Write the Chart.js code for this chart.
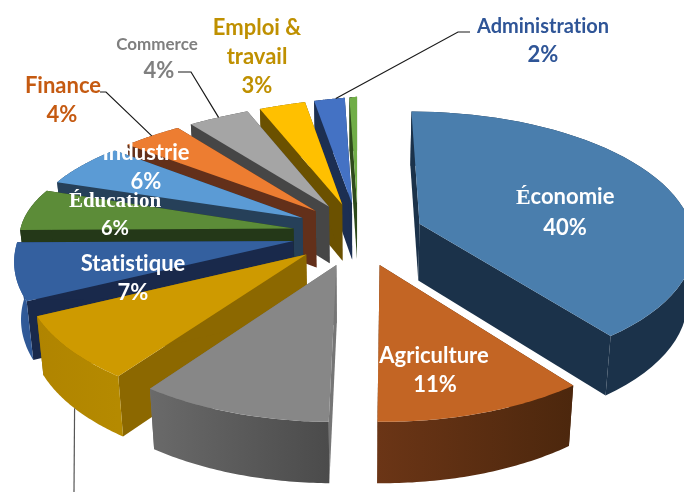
<!DOCTYPE html>
<html>
<head>
<meta charset="utf-8">
<style>
  /* the capital É of one label is set in a serif face */
  @font-face {
    font-family: 'LabelCap';
    src: local('Liberation Serif Bold');
    font-weight: bold;
    unicode-range: U+00C9;
  }
  html, body { margin: 0; padding: 0; background: #fff; }
  canvas { display: block; }
</style>
<script src="https://cdn.jsdelivr.net/npm/chart.js@4"></script>
</head>
<body>
<canvas id="pie" width="684" height="492"></canvas>
<script>
const categories = ['Économie', 'Agriculture', 'Autre A', 'Autre B', 'Statistique', 'Éducation',
    'Industrie', 'Finance', 'Commerce', 'Emploi & travail', 'Administration', 'Autre C'];
const shares = [40, 11, 10, 8, 7, 6, 6, 4, 4, 3, 2, 0.5];

const faceColors = ['#4A7EAD', '#C36524', '#878787', '#CE9A00', '#34609F', '#5C8C38',
    '#5B9BD5', '#ED7D31', '#A5A5A5', '#FFC000', '#4472C4', '#70AD47'];
const sideColors = ['#1B324A', '#4C270D', '#767676', '#8C6800', '#19294B', '#243818',
    '#264059', '#63301A', '#464646', '#6B5100', '#1C2F52', '#2E4A1B'];
const rimLeft = ['#1B324A', '#6B3516', '#6A6A6A', '#B08400', '#34609F', '#243818',
    '#264059', '#63301A', '#464646', '#6B5100', '#1C2F52', '#2E4A1B'];
const rimRight = ['#1B324A', '#4C270D', '#4B4B4B', '#B58A00', '#2F5896', '#243818',
    '#264059', '#63301A', '#464646', '#6B5100', '#1C2F52', '#2E4A1B'];

// back slices first so that the nearer ones cover their side walls
const paintOrder = [0, 1, 11, 10, 9, 8, 7, 6, 5, 4, 3, 2];

// tilted view of the unit pie
const view = { x: 358, y: 234, rx: 274, ry: 132, persp: 0.13, explode: 0.24, depth: 57, shrink: 0.98 };

function project(u, v) {
    const s = 1 + view.persp * v;
    // the rear left quarter leans out a little
    const lean = Math.max(0, -u) * Math.max(0, -v);
    return {
        x: view.x + view.rx * s * u - 15 * lean,
        y: view.y + view.ry * s * v + 14 * lean
    };
}

function drop(p) {
    const v = (p.y - view.y) / view.ry;
    return {
        x: view.x + (p.x - view.x) * view.shrink,
        y: view.y + (p.y - view.y) * view.shrink + view.depth * (1 + 0.1 * v)
    };
}

function fillPoly(ctx, pts, fill) {
    ctx.beginPath();
    pts.forEach((p, i) => i ? ctx.lineTo(p.x, p.y) : ctx.moveTo(p.x, p.y));
    ctx.closePath();
    ctx.fillStyle = fill;
    ctx.fill();
}

function sliceOutline(arc) {
    const mid = (arc.startAngle + arc.endAngle) / 2;
    const ox = Math.cos(mid) * view.explode;
    const oy = Math.sin(mid) * view.explode;
    const rim = [];
    const steps = 48;
    for (let i = 0; i <= steps; i++) {
        const a = arc.startAngle + (arc.endAngle - arc.startAngle) * i / steps;
        rim.push(project(ox + Math.cos(a), oy + Math.sin(a)));
    }
    return { apex: project(ox, oy), rim: rim };
}

const pie3d = {
    id: 'pie3d',
    beforeDatasetsDraw(chart) {
        const ctx = chart.ctx;
        const arcs = chart.getDatasetMeta(0).data;
        paintOrder.forEach(i => {
            const shape = sliceOutline(arcs[i]);
            const rim = shape.rim;
            const first = rim[0];
            const last = rim[rim.length - 1];

            // radial walls
            fillPoly(ctx, [shape.apex, first, drop(first), drop(shape.apex)], sideColors[i]);
            fillPoly(ctx, [shape.apex, last, drop(last), drop(shape.apex)], sideColors[i]);

            // outer wall
            const lower = rim.map(drop).reverse();
            const xs = rim.map(p => p.x);
            const grad = ctx.createLinearGradient(Math.min(...xs), 0, Math.max(...xs), 0);
            grad.addColorStop(0, rimLeft[i]);
            grad.addColorStop(1, rimRight[i]);
            fillPoly(ctx, rim.concat(lower), grad);

            // top face
            fillPoly(ctx, [shape.apex].concat(rim), faceColors[i]);
        });
        return false;
    },
    afterDraw(chart) {
        const ctx = chart.ctx;
        const arcs = chart.getDatasetMeta(0).data;

        // leader lines start on the rim of their slice
        ctx.lineWidth = 1.2;
        leaders.forEach(l => {
            const shape = sliceOutline(arcs[l.slice]);
            const start = l.wall ? drop(shape.rim[l.at]) : shape.rim[l.at];
            ctx.beginPath();
            ctx.moveTo(start.x, start.y);
            l.path.forEach(p => ctx.lineTo(p[0], p[1]));
            ctx.strokeStyle = l.color || '#1a1a1a';
            ctx.stroke();
        });

        // optimizeSpeed keeps Lato from joining "ti" into a ligature
        ctx.textRendering = 'optimizeSpeed';
        ctx.textAlign = 'center';
        ctx.textBaseline = 'middle';
        labels.forEach(t => {
            ctx.font = t.font;
            ctx.fillStyle = t.color;
            ctx.fillText(t.text, t.x, t.y);
        });
    }
};

const leaders = [
    { slice: 7, at: 24, path: [[106, 92], [100, 92]] },
    { slice: 8, at: 24, path: [[191, 72], [178, 72]] },
    { slice: 10, at: 34, path: [[458, 32], [470, 32]] },
    { slice: 3, at: 24, wall: true, path: [[74, 492]], color: '#555' }
];

const bodyFont = 'bold 22px Lato';
const labels = [
    { text: 'Économie', x: 565, y: 197, font: 'bold 22px LabelCap, Lato', color: '#fff' },
    { text: '40%', x: 565, y: 228, font: bodyFont, color: '#fff' },
    { text: 'Agriculture', x: 434, y: 356, font: bodyFont, color: '#fff' },
    { text: '11%', x: 435, y: 385, font: bodyFont, color: '#fff' },
    { text: 'Statistique', x: 133, y: 264, font: bodyFont, color: '#fff' },
    { text: '7%', x: 133, y: 293, font: bodyFont, color: '#fff' },
    { text: 'Éducation', x: 115, y: 202, font: 'bold 21px "Liberation Serif"', color: '#fff' },
    { text: '6%', x: 115, y: 229, font: 'bold 20px Lato', color: '#fff' },
    { text: 'Industrie', x: 146, y: 153, font: bodyFont, color: '#fff' },
    { text: '6%', x: 146, y: 182, font: bodyFont, color: '#fff' },
    { text: 'Finance', x: 63, y: 86, font: bodyFont, color: '#C55A11' },
    { text: '4%', x: 62, y: 115, font: bodyFont, color: '#C55A11' },
    { text: 'Commerce', x: 157, y: 45, font: 'bold 17px Lato', color: '#7F7F7F' },
    { text: '4%', x: 159, y: 71, font: bodyFont, color: '#7F7F7F' },
    { text: 'Emploi &', x: 257, y: 28, font: bodyFont, color: '#BF9000' },
    { text: 'travail', x: 257, y: 57, font: bodyFont, color: '#BF9000' },
    { text: '3%', x: 257, y: 86, font: bodyFont, color: '#BF9000' },
    { text: 'Administration', x: 543, y: 27, font: 'bold 20px Lato', color: '#2F5597' },
    { text: '2%', x: 543, y: 55, font: bodyFont, color: '#2F5597' }
];

function drawChart() {
    new Chart(document.getElementById('pie'), {
        type: 'pie',
        data: {
            labels: categories,
            datasets: [{ data: shares, backgroundColor: faceColors }]
        },
        options: {
            responsive: false,
            animation: false,
            rotation: 0,
            plugins: { legend: { display: false }, tooltip: { enabled: false } }
        },
        plugins: [pie3d]
    });
}

document.fonts.load('bold 22px LabelCap', 'É').then(drawChart, drawChart);
</script>
</body>
</html>
